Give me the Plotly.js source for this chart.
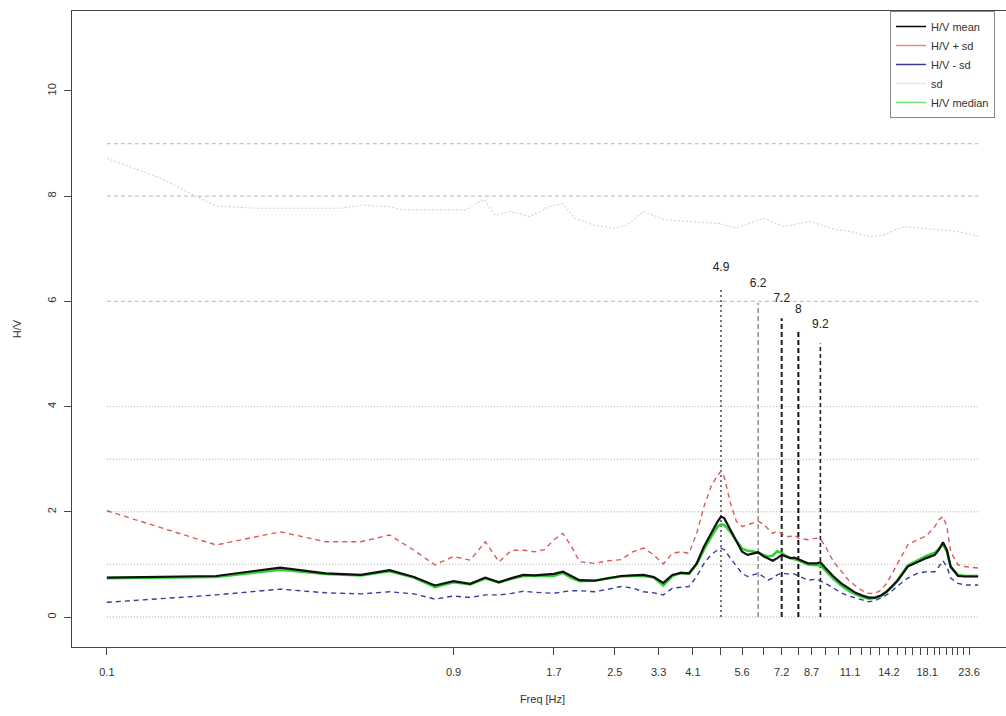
<!DOCTYPE html>
<html><head><meta charset="utf-8">
<script src="https://cdn.plot.ly/plotly-3.0.1.min.js"></script>
<style>html,body{margin:0;padding:0;overflow:hidden;background:#fff}</style>
</head><body><div id="chart"></div>
<script>
// ---- data ----
const freq = [0.1,0.2,0.3,0.4,0.5,0.6,0.7,0.8,0.9,1.0,1.1,1.2,1.3,1.4,1.5,
  1.6,1.7,1.8,1.9,2.0,
  2.2,2.4,2.6,2.8,3.0,3.2,3.4,3.6,3.8,4.0,4.2,4.4,4.6,4.8,
  4.9,
  5.0,5.2,5.4,5.6,5.8,6.0,6.2,6.4,6.6,6.8,7.0,7.2,7.4,7.6,7.8,8.0,
  8.5,9.0,9.2,9.5,
  10,10.5,11,11.5,12,12.5,13,13.5,14,14.5,15,
  16,17,18,19,
  19.5,20,20.5,21,
  22,23,25];
const hvMean = [0.75,0.78,0.94,0.83,0.80,0.89,0.76,0.60,0.68,0.63,0.75,0.66,0.74,0.80,0.79,
  0.80,0.82,0.86,0.77,0.70,
  0.69,0.74,0.78,0.79,0.80,0.76,0.65,0.80,0.84,0.83,1.02,1.34,1.59,1.82,
  1.91,
  1.88,1.66,1.43,1.24,1.18,1.20,1.23,1.16,1.12,1.07,1.12,1.18,1.15,1.12,1.13,1.10,
  1.02,1.02,1.04,0.93,
  0.77,0.64,0.55,0.46,0.41,0.37,0.37,0.41,0.48,0.58,0.69,
  0.96,1.05,1.12,1.18,
  1.28,1.42,1.28,0.96,
  0.78,0.77,0.77];
const hvPlusSd = [2.02,1.37,1.62,1.43,1.43,1.56,1.27,0.99,1.15,1.08,1.43,1.05,1.27,1.27,1.24,
  1.28,1.47,1.59,1.34,1.05,
  1.02,1.07,1.09,1.24,1.31,1.18,1.01,1.21,1.24,1.21,1.59,2.10,2.48,2.70,
  2.77,
  2.67,2.17,1.82,1.72,1.75,1.78,1.82,1.77,1.67,1.59,1.63,1.59,1.53,1.53,1.56,1.50,
  1.47,1.50,1.48,1.34,
  1.05,0.86,0.70,0.59,0.50,0.45,0.45,0.51,0.64,0.83,1.02,
  1.37,1.47,1.54,1.72,
  1.85,1.91,1.72,1.24,
  0.99,0.96,0.93];
const hvMinusSd = [0.28,0.42,0.53,0.46,0.44,0.48,0.44,0.34,0.40,0.37,0.42,0.42,0.45,0.49,0.47,
  0.46,0.45,0.48,0.50,0.50,
  0.48,0.53,0.58,0.55,0.48,0.46,0.42,0.55,0.57,0.58,0.77,1.02,1.18,1.28,
  1.31,
  1.28,1.12,0.96,0.83,0.77,0.80,0.83,0.77,0.70,0.74,0.80,0.84,0.82,0.82,0.82,0.78,
  0.70,0.72,0.69,0.64,
  0.55,0.46,0.40,0.36,0.32,0.29,0.31,0.36,0.42,0.50,0.59,
  0.74,0.83,0.86,0.86,
  0.96,1.07,0.96,0.74,
  0.64,0.61,0.61];
const hvMedian = [0.74,0.76,0.90,0.82,0.79,0.87,0.75,0.57,0.66,0.62,0.73,0.66,0.73,0.78,0.78,
  0.78,0.78,0.84,0.74,0.68,
  0.69,0.74,0.77,0.78,0.78,0.75,0.60,0.78,0.84,0.82,1.00,1.28,1.52,1.72,
  1.76,
  1.75,1.62,1.45,1.30,1.26,1.25,1.22,1.18,1.15,1.17,1.25,1.22,1.16,1.12,1.10,1.08,
  1.00,0.98,0.98,0.88,
  0.72,0.60,0.50,0.43,0.38,0.35,0.36,0.40,0.48,0.58,0.70,
  0.98,1.08,1.16,1.22,
  1.30,1.38,1.25,0.95,
  0.80,0.78,0.78];
const sdFreq = [0.1,0.14,0.17,0.2,0.26,0.44,0.5,0.6,0.65,0.97,1.09,1.17,1.29,1.46,1.65,1.79,1.94,2.19,2.48,2.7,3.0,3.43,3.94,4.87,5.4,6.4,7.3,8.6,10.2,11.1,12.6,13.7,15.6,17.8,19.3,21.9,25];
const sdValue = [8.72,8.35,8.05,7.81,7.77,7.77,7.83,7.80,7.74,7.74,7.94,7.64,7.71,7.61,7.80,7.86,7.58,7.45,7.39,7.45,7.71,7.55,7.52,7.48,7.39,7.58,7.42,7.52,7.36,7.33,7.23,7.26,7.42,7.39,7.36,7.33,7.24];
const refLevels = [0,1,2,3,4,6,8,9];
const peakFreq = [4.9,6.2,7.2,8,9.2];
const peakLabels = ['4.9','6.2','7.2','8','9.2'];
const peakTop = [6.27,5.97,5.68,5.47,5.2];
const xTickVals = [0.1,0.9,1.7,2.5,3.3,4.1,4.9,5.6,6.4,7.2,8.0,8.7,9.5,10.3,11.1,11.9,12.6,13.4,14.2,15.0,15.8,16.5,17.3,18.1,18.9,19.6,20.4,21.2,22.0,22.8,23.6];
const xTickLabels = ['0.1','0.9','1.7','2.5','3.3','4.1','','5.6','','7.2','','8.7','','','11.1','','','','14.2','','','','','18.1','','','','','','','23.6'];
const yTickVals = [0,2,4,6,8,10];
const legendNames = ['H/V mean','H/V + sd','H/V - sd','sd','H/V median'];

// ---- styles ----
const FONT = '"Liberation Sans", Arial, Helvetica, sans-serif';
const refStyles = [
  {dash:'1px,2px',w:1.4,c:'#c4c4c4'},{dash:'1px,2px',w:1.4,c:'#c4c4c4'},{dash:'1px,2px',w:1.4,c:'#c4c4c4'},
  {dash:'1px,2px',w:1.4,c:'#c4c4c4'},{dash:'1px,2px',w:1.4,c:'#c4c4c4'},
  {dash:'4px,3px',w:1.2,c:'#c4c4c4'},{dash:'4px,3px',w:1.2,c:'#c4c4c4'},{dash:'4px,3px',w:1.2,c:'#c4c4c4'}];
const peakStyles = [
  {dash:'2px,3px',w:1.6,c:'#555'},
  {dash:'5px,3px',w:1.0,c:'#555'},
  {dash:'5px,3px',w:2.0,c:'#222'},
  {dash:'5px,3px',w:2.0,c:'#111'},
  {dash:'4px,3px',w:1.6,c:'#222'}];
const legendColors = ['#000000','#ee8888','#3a3a9a','#e6e6de','#77dd77'];
const xMin = Math.min(...freq), xMax = Math.max(...freq);

const traces = [];
refLevels.forEach((lv,i)=>{
  traces.push({x:[xMin,xMax],y:[lv,lv],mode:'lines',showlegend:false,hoverinfo:'skip',
    line:{color:refStyles[i].c,width:refStyles[i].w,dash:refStyles[i].dash}});
});
traces.push({x:sdFreq,y:sdValue,mode:'lines',showlegend:false,
  line:{color:'#d2d2d2',width:1.1,dash:'2px,2px'}});
peakFreq.forEach((f,i)=>{
  traces.push({x:[f,f],y:[0,peakTop[i]],mode:'lines',showlegend:false,hoverinfo:'skip',
    line:{color:peakStyles[i].c,width:peakStyles[i].w,dash:peakStyles[i].dash}});
});
traces.push({x:peakFreq,y:peakTop.map(v=>v+0.36),text:peakLabels,mode:'text',showlegend:false,
  textposition:'middle center',textfont:{family:FONT,size:12,color:'#222222'}});
traces.push({x:freq,y:hvPlusSd,mode:'lines',showlegend:false,line:{color:'#d85c5c',width:1.4,dash:'5px,4px'}});
traces.push({x:freq,y:hvMinusSd,mode:'lines',showlegend:false,line:{color:'#3a3aa0',width:1.4,dash:'5px,4px'}});
traces.push({x:freq,y:hvMedian,mode:'lines',showlegend:false,line:{color:'#33d033',width:2.6}});
traces.push({x:freq,y:hvMean,mode:'lines',showlegend:false,line:{color:'#111',width:2.2}});
legendNames.forEach((n,i)=>{
  traces.push({x:[null],y:[null],mode:'lines',name:n,showlegend:true,
    line:{color:legendColors[i],width:1.5}});
});

const layout = {
  width:1013, height:716,
  margin:{l:72,r:0,t:11,b:69},
  paper_bgcolor:'#fff', plot_bgcolor:'#fff',
  font:{family:FONT,size:11,color:'#333'},
  showlegend:true,
  legend:{x:(890-72)/941,xanchor:'left',y:1,yanchor:'top',bgcolor:'#fff',
    bordercolor:'#888',borderwidth:1,font:{family:FONT,size:11,color:'#333'},tracegroupgap:0},
  xaxis:{type:'log',range:[Math.log10(xMin)-0.0959,Math.log10(xMax)+0.0959],
    tickmode:'array',tickvals:xTickVals,ticktext:xTickLabels,
    ticks:'outside',ticklen:7,tickcolor:'#444',tickwidth:1,ticklabelstandoff:8,
    showline:true,linecolor:'#444',linewidth:1,mirror:true,
    showgrid:false,zeroline:false,
    tickfont:{family:FONT,size:11,color:'#333'},
    title:{text:'Freq [Hz]',font:{family:FONT,size:11,color:'#333'},standoff:18}},
  yaxis:{range:[-0.57,11.52],tickmode:'array',tickvals:yTickVals,
    ticks:'outside',ticklen:7,tickcolor:'#444',tickwidth:1,tickangle:-90,ticklabelstandoff:4,
    showline:true,linecolor:'#444',linewidth:1,mirror:true,
    showgrid:false,zeroline:false,
    tickfont:{family:FONT,size:11,color:'#333'},
    title:{text:'H/V',font:{family:FONT,size:11,color:'#333'},standoff:21}}
};
Plotly.newPlot('chart',traces,layout,{displayModeBar:false,staticPlot:true});
</script></body></html>
